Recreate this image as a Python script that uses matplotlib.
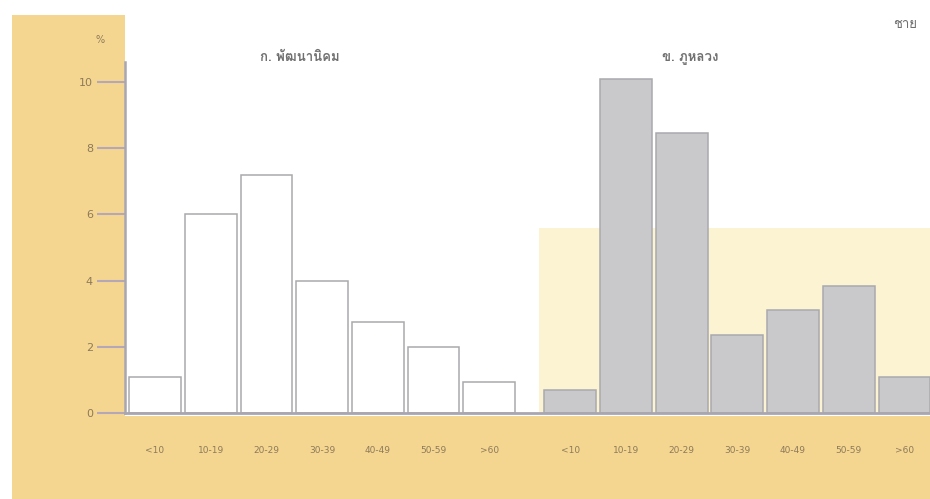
import matplotlib
matplotlib.use("Agg")
import matplotlib.pyplot as plt
import matplotlib.patches as mpatches
from matplotlib import font_manager as fm
from matplotlib.ft2font import FT2Font
import numpy as np

# ข้อมูล (ร้อยละ) ชาย
age_groups = ["<10", "10-19", "20-29", "30-39", "40-49", "50-59", ">60"]
phatthana = [1.1, 6.0, 7.2, 4.0, 2.75, 2.0, 0.95]
phuluang = [0.7, 10.1, 8.45, 2.35, 3.1, 3.85, 1.1]
title_left = "ก. พัฒนานิคม"
title_right = "ข. ภูหลวง"
sex_label = "ชาย"

ORANGE = "#F5D690"
PALE = "#FCF3D2"
GRAY_BAR = "#C9C9CC"
EDGE = "#A9A9AE"
TXT = "#8C7A5A"


def thai_fonts():
    # หาฟอนต์ที่มีอักษรไทย
    found = []
    for f in fm.fontManager.ttflist:
        try:
            if ord("ก") in FT2Font(f.fname).get_charmap():
                found.append(f.name)
        except Exception:
            pass
    return found


fam = thai_fonts()[:1] + ["DejaVu Sans"]

W, H = 930, 499
fig = plt.figure(figsize=(W / 100, H / 100), dpi=100)

# แถบสีส้มรูปตัว L (ซ้ายและล่าง) อยู่ใต้กราฟ
bg = fig.add_axes([0, 0, 1, 1], zorder=-1)
bg.axis("off")
bg.set_xlim(0, W)
bg.set_ylim(H, 0)
bg.add_patch(mpatches.Rectangle((12, 15), 113, H - 15, color=ORANGE, lw=0))
bg.add_patch(mpatches.Rectangle((12, 416), W - 12, H - 416, color=ORANGE, lw=0))

ax = fig.add_axes([125 / W, 86 / H, 1 - 125 / W, 351 / H])
ax.set_facecolor("white")

x_left = np.arange(len(age_groups))
x_right = x_left + 7.46
width = 0.93

ax.add_patch(mpatches.Rectangle((6.9, 0), 7.2, 5.6, color=PALE, zorder=0, lw=0))

ax.bar(x_left, phatthana, width=width, color="white", edgecolor=EDGE, lw=1.1, zorder=2)
ax.bar(x_right, phuluang, width=width, color=GRAY_BAR, edgecolor=EDGE, lw=1.1, zorder=2)

ax.set_xlim(-0.54, 13.92)
ax.set_ylim(0, 10.6)
ax.set_yticks([0, 2, 4, 6, 8, 10])
ax.set_yticklabels(["0", "2", "4", "6", "8", "10"], fontsize=8, color=TXT)
ax.tick_params(axis="y", length=20, width=1.5, color="#B3A7B8", pad=3)
ax.set_xticks(np.concatenate([x_left, x_right]))
ax.set_xticklabels(age_groups + age_groups, fontsize=6.5, color=TXT)
ax.tick_params(axis="x", length=0, pad=24)

for s in ["top", "right"]:
    ax.spines[s].set_visible(False)
ax.spines["left"].set_color("#A9A6B0")
ax.spines["left"].set_linewidth(1.8)
ax.spines["bottom"].set_color("#A9A6B0")
ax.spines["bottom"].set_linewidth(2)

fig.text(100 / W, 1 - 40 / H, "%", fontsize=7, color=TXT, ha="center", va="center")
fig.text(300 / W, 1 - 58 / H, title_left, fontsize=9.5, color="#707070", ha="center",
         va="center", family=fam, weight="bold")
fig.text(690 / W, 1 - 58 / H, title_right, fontsize=9.5, color="#707070", ha="center",
         va="center", family=fam, weight="bold")
fig.text(905 / W, 1 - 25 / H, sex_label, fontsize=9.5, color="#707070", ha="center",
         va="center", family=fam)

fig.savefig("out.png", dpi=100)
